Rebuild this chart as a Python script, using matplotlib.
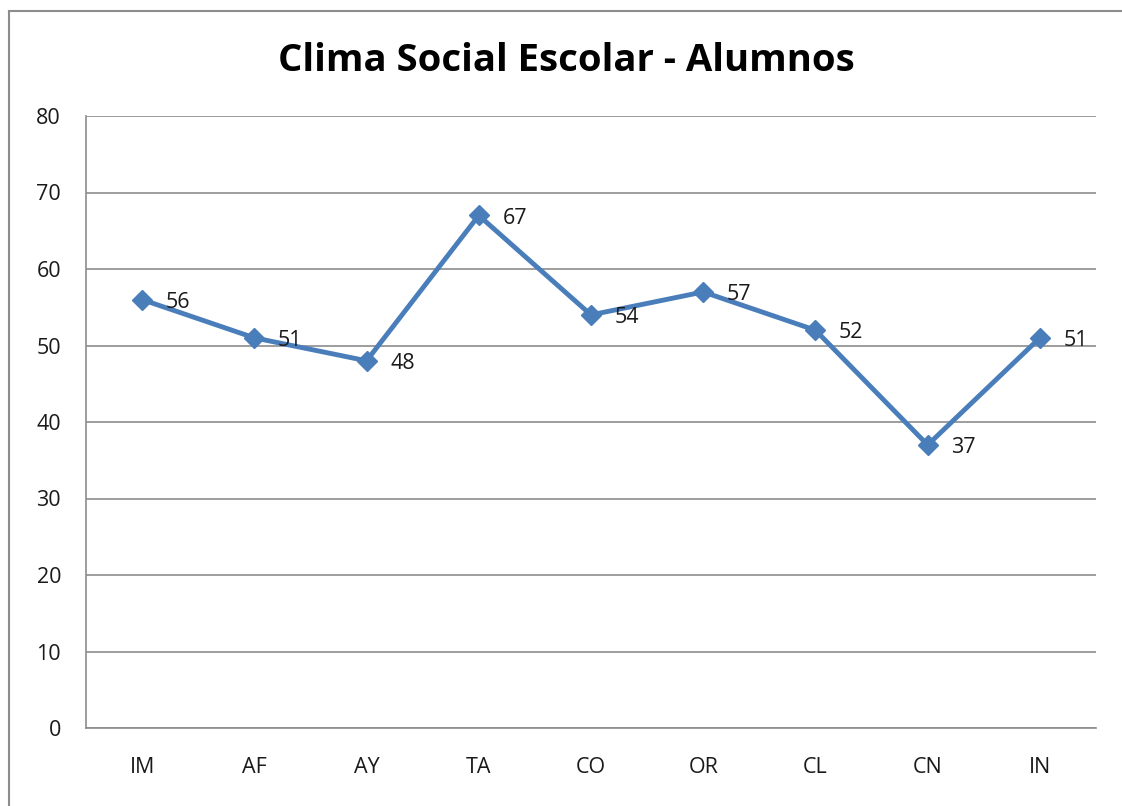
import matplotlib
matplotlib.use("Agg")
import matplotlib.pyplot as plt
from matplotlib.lines import Line2D

categories = ["IM", "AF", "AY", "TA", "CO", "OR", "CL", "CN", "IN"]
values = [56, 51, 48, 67, 54, 57, 52, 37, 51]
yticks = [0, 10, 20, 30, 40, 50, 60, 70, 80]
title = "Clima Social Escolar - Alumnos"

plt.rcParams['font.family'] = ['Open Sans', 'DejaVu Sans']

W, H = 1122, 806
fig = plt.figure(figsize=(W / 100, H / 100), dpi=100)
fig.patch.set_facecolor("white")

# outer chart-area border (clipped by image on right and bottom)
bx, by = 8.5 / W, 1 - 10.5 / H
fig.add_artist(Line2D([bx, bx], [0, by], transform=fig.transFigure, color="#8c8c8c", lw=1.5))
fig.add_artist(Line2D([bx, 1], [by, by], transform=fig.transFigure, color="#8c8c8c", lw=1.5))

left, right = 86 / W, 1096 / W
bottom, top = 1 - 728 / H, 1 - 116 / H
ax = fig.add_axes([left, bottom, right - left, top - bottom])

x = list(range(len(categories)))
ax.plot(x, values, color="#4A7EBB", lw=3.5, marker="D", markersize=10,
        markerfacecolor="#4A7EBB", markeredgecolor="#4A7EBB", zorder=3)
for xi, v in zip(x, values):
    ax.annotate(str(v), (xi, v), xytext=(17, -2), textcoords="offset points",
                ha="left", va="center", fontsize=15.5, color="#1a1a1a", zorder=4)

ax.set_xlim(-0.5, len(categories) - 0.5)
ax.set_ylim(0, 80)
ax.set_yticks(yticks)
ax.set_xticks(x)
ax.set_xticklabels(categories)
ax.tick_params(axis="both", length=0, labelsize=15.5, colors="#1a1a1a")
ax.tick_params(axis="y", pad=18)
ax.tick_params(axis="x", pad=21)
ax.yaxis.grid(True, color="#8c8c8c", lw=1.2)
ax.set_axisbelow(True)
for s in ["top", "right"]:
    ax.spines[s].set_visible(False)
for s in ["left", "bottom"]:
    ax.spines[s].set_color("#8c8c8c")
    ax.spines[s].set_linewidth(1.2)

fig.text(566 / W, 1 - 61 / H, title, ha="center", va="center",
         fontsize=27.5, fontweight="bold", color="black")

fig.savefig("out.png", dpi=100, facecolor="white")
